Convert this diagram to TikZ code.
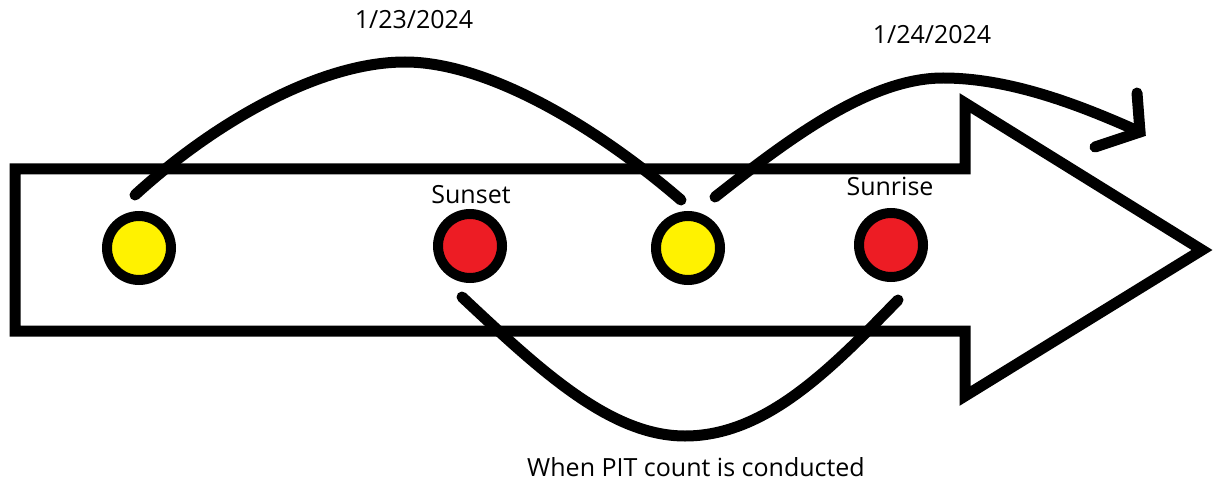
\documentclass[tikz,border=0pt]{standalone}
\usepackage{fontspec}
\setmainfont{Open Sans}
\definecolor{pyellow}{HTML}{FFF200}
\definecolor{pred}{HTML}{ED1C24}
\begin{document}
\begin{tikzpicture}[x=1pt,y=-1pt,
  body/.style={line width=11pt, line join=miter},
  dot/.style={circle, draw=black, line width=10pt, minimum size=64pt, inner sep=0pt},
  curve/.style={line width=11pt, line cap=round},
  barb/.style={line width=11pt, line cap=round, line join=miter},
  lbl/.style={font=\fontsize{25}{29}\selectfont, inner sep=0pt, anchor=base}]
\useasboundingbox (0,0) rectangle (1214,481);
% big arrow body
\draw[body] (15,169) -- (965,169) -- (965,103) -- (1202,250) -- (965,396) -- (965,331) -- (15,331) -- cycle;
% dots
\node[dot, fill=pyellow] (y1) at (139,248) {};
\node[dot, fill=pred] (r1) at (470,246) {};
\node[dot, fill=pyellow] (y2) at (688,248) {};
\node[dot, fill=pred] (r2) at (891,245) {};
% arc end points
\coordinate (a1s) at (135,195);
\coordinate (a1p) at (405,62);
\coordinate (a1e) at (681,200);
\coordinate (a2s) at (715,197);
\coordinate (a2p) at (943,78);
\coordinate (a2e) at (1140,132);
\coordinate (bu) at (1137,93);
\coordinate (bl) at (1095,147);
\coordinate (a3s) at (462,297);
\coordinate (a3p) at (685,436);
\coordinate (a3e) at (898,300);
% arcs
\draw[curve] (a1s) .. controls (215,122) and (320,62) .. (a1p) .. controls (490,62) and (600,130) .. (a1e);
\draw[curve] (a2s) .. controls (790,138) and (870,78) .. (a2p) .. controls (1010,78) and (1080,105) .. (a2e);
\draw[barb] (bu) -- (a2e) -- (bl);
\draw[curve] (a3s) .. controls (540,370) and (610,436) .. (a3p) .. controls (765,436) and (830,370) .. (a3e);
% labels
\node[lbl] (d1) at (414,29) {1/23/2024};
\node[lbl] (d2) at (932,44) {1/24/2024};
\node[lbl] (ss) at (471,203) {Sunset};
\node[lbl] (sr) at (890,196) {Sunrise};
\node[lbl] (pit) at (696,476) {When PIT count is conducted};
\end{tikzpicture}
\end{document}
